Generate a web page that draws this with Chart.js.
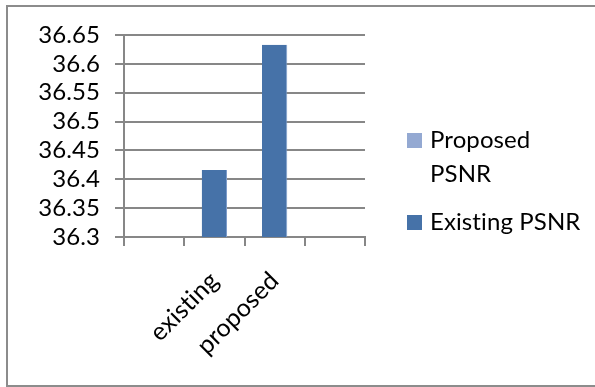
<!DOCTYPE html>
<html>
<head>
<meta charset="utf-8">
<script src="https://cdn.jsdelivr.net/npm/chart.js@4/dist/chart.umd.min.js"></script>
<style>
  html, body { margin: 0; padding: 0; background: #ffffff; }
  #wrap { position: relative; width: 595px; height: 387px; }
  canvas { display: block; }
</style>
</head>
<body>
<div id="wrap"><canvas id="psnr" width="595" height="387"></canvas></div>
<script>
// Categories along the x axis (outer slots are empty)
const categories = ['', 'existing', 'proposed', ''];
// PSNR values per series
const proposedPsnr = [null, null, null, null];
const existingPsnr = [null, 36.416, 36.633, null];
// Value axis ticks
const yTicks = [36.3, 36.35, 36.4, 36.45, 36.5, 36.55, 36.6, 36.65];

const FONT = 'Lato, "Open Sans", sans-serif';
const GRID = '#878787';

// Plain glyphs, no ligatures
function plain(ctx) {
  if ('textRendering' in ctx) ctx.textRendering = 'optimizeSpeed';
  if ('letterSpacing' in ctx) ctx.letterSpacing = '0.1px';
}
const plainText = {
  id: 'plainText',
  beforeDraw(chart) { plain(chart.ctx); }
};

// Frame around the chart plus the series key on the right
const framePlugin = {
  id: 'frame',
  afterDraw(chart) {
    const ctx = chart.ctx;
    ctx.save();
    plain(ctx);
    ctx.strokeStyle = '#8c8c8c';
    ctx.lineWidth = 2;
    ctx.beginPath();
    ctx.moveTo(595, 6);
    ctx.lineTo(7, 6);
    ctx.lineTo(7, 386);
    ctx.lineTo(595, 386);
    ctx.stroke();

    // key entries
    ctx.font = '24px ' + FONT;
    ctx.fillStyle = '#000000';
    ctx.textBaseline = 'alphabetic';
    ctx.textAlign = 'left';
    const textX = 430, boxX = 407, box = 15, lineH = 34, maxW = 153;
    let y = 148;
    chart.data.datasets.forEach(ds => {
      const words = ds.label.split(' ');
      const lines = [];
      let cur = '';
      words.forEach(w => {
        const test = cur ? cur + ' ' + w : w;
        if (cur && ctx.measureText(test).width > maxW) { lines.push(cur); cur = w; }
        else cur = test;
      });
      lines.push(cur);
      ctx.fillStyle = ds.backgroundColor;
      ctx.fillRect(boxX, y - box, box, box);
      ctx.fillStyle = '#000000';
      lines.forEach((ln, i) => ctx.fillText(ln, textX, y + i * lineH));
      y += lines.length * lineH + 14;
    });
    ctx.restore();
  }
};

new Chart(document.getElementById('psnr'), {
  type: 'bar',
  data: {
    labels: categories,
    datasets: [
      { label: 'Proposed PSNR', data: proposedPsnr, backgroundColor: '#94A9D2' },
      { label: 'Existing PSNR', data: existingPsnr, backgroundColor: '#4672A8',
        borderColor: '#7E9DCB', borderWidth: { right: 1, left: 0, top: 0, bottom: 0 } }
    ]
  },
  options: {
    responsive: false,
    animation: false,
    skipNull: true,
    categoryPercentage: 1,
    barPercentage: 0.42,
    layout: { padding: { left: 0, right: 230, top: 35, bottom: 0 } },
    plugins: { legend: { display: false }, tooltip: { enabled: false } },
    scales: {
      x: {
        grid: { display: true, drawOnChartArea: false, drawTicks: true, tickLength: 9, color: GRID, lineWidth: 2, offset: true },
        border: { display: true, color: GRID, width: 2 },
        ticks: {
          autoSkip: false, minRotation: 45, maxRotation: 45, padding: 20,
          color: '#000000', font: { family: FONT, size: 25 }
        },
        afterFit(scale) { scale.height = 150; }
      },
      y: {
        min: yTicks[0],
        max: yTicks[yTicks.length - 1],
        afterBuildTicks(scale) { scale.ticks = yTicks.map(v => ({ value: v })); },
        grid: { color: GRID, lineWidth: 2, tickLength: 9, drawTicks: true },
        border: { display: true, color: GRID, width: 2 },
        ticks: {
          autoSkip: false, padding: 15, color: '#000000', font: { family: FONT, size: 24 },
          callback: v => String(Number(v.toFixed(2)))
        },
        afterFit(scale) { scale.width = 124; }
      }
    }
  },
  plugins: [plainText, framePlugin]
});
</script>
</body>
</html>
